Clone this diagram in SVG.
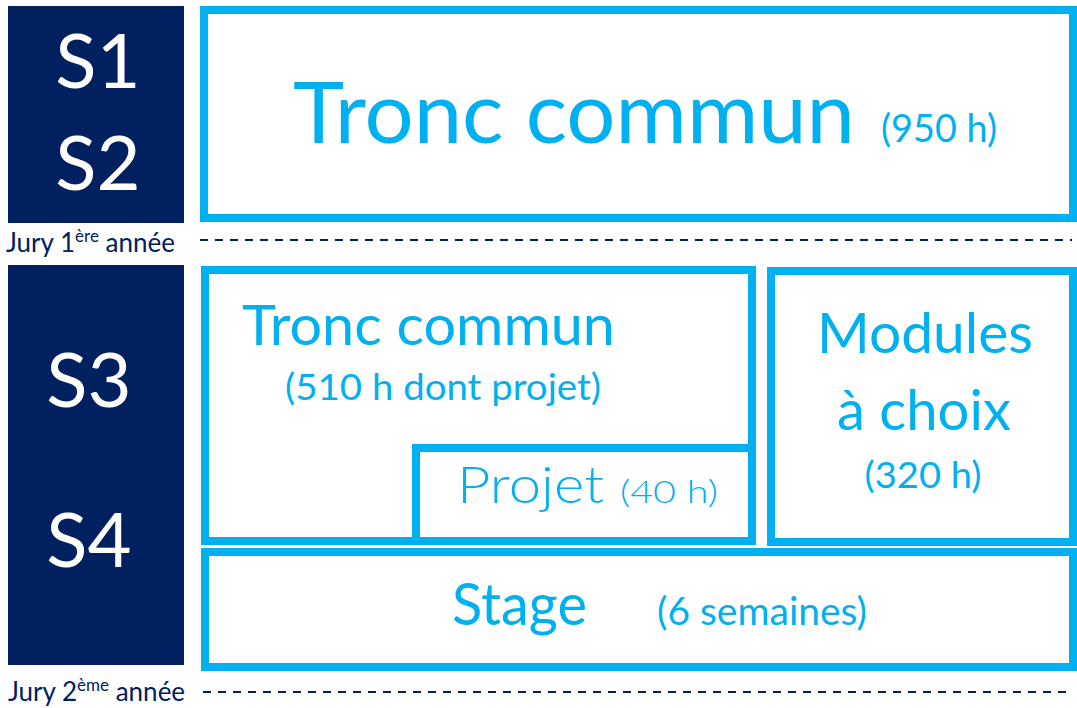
<svg xmlns="http://www.w3.org/2000/svg" width="1077" height="708" viewBox="0 0 1077 708">
<style>
.sem{fill:#002060}
.semt{fill:#ffffff;font-family:Lato,"Liberation Sans",sans-serif;font-size:76px;text-anchor:middle}
.box{fill:#ffffff;stroke:#00B0F0;stroke-width:8}
.t{fill:#00B0F0;font-family:Lato,"Liberation Sans",sans-serif}
.lt{font-weight:300}
.jury{fill:#002060;font-family:Lato,"Liberation Sans",sans-serif;font-size:26px}
.dash{stroke:#002060;stroke-width:2;stroke-dasharray:8 7;fill:none}
</style>
<rect width="1077" height="708" fill="#ffffff"/>
<g id="year1">
  <rect class="sem" x="8" y="6" width="176" height="217"/>
  <text class="semt" x="98" y="88">S1</text>
  <text class="semt" x="98" y="190">S2</text>
</g>
<g id="tronc1">
  <rect class="box" x="204" y="10" width="869" height="208"/>
  <text class="t" x="293" y="143" font-size="86" textLength="562" lengthAdjust="spacingAndGlyphs">Tronc commun</text>
  <text class="t" x="881" y="142" font-size="38" textLength="116" lengthAdjust="spacingAndGlyphs">(950 h)</text>
</g>
<g id="year2">
  <rect class="sem" x="8" y="265" width="176" height="400"/>
  <text class="semt" x="89" y="407">S3</text>
  <text class="semt" x="89" y="567">S4</text>
</g>
<g id="tronc2">
  <rect class="box" x="205" y="270" width="547" height="271"/>
  <text class="t" x="242" y="345" font-size="56" textLength="373" lengthAdjust="spacingAndGlyphs">Tronc commun</text>
  <text class="t" x="285" y="400" font-size="37" textLength="316" lengthAdjust="spacingAndGlyphs">(510 h dont projet)</text>
</g>
<g id="projet">
  <rect class="box" x="416" y="448" width="336" height="93"/>
  <text class="t lt" x="457" y="503" font-size="52" textLength="147" lengthAdjust="spacingAndGlyphs">Projet</text>
  <text class="t lt" x="620" y="503" font-size="32" textLength="98" lengthAdjust="spacingAndGlyphs">(40 h)</text>
</g>
<g id="modules">
  <rect class="box" x="771" y="271" width="302" height="271"/>
  <text class="t" x="925" y="353" font-size="56" text-anchor="middle" textLength="216" lengthAdjust="spacingAndGlyphs">Modules</text>
  <text class="t" x="924" y="430" font-size="56" text-anchor="middle" textLength="174" lengthAdjust="spacingAndGlyphs">à choix</text>
  <text class="t" x="923" y="488" font-size="37" text-anchor="middle" textLength="117" lengthAdjust="spacingAndGlyphs">(320 h)</text>
</g>
<g id="stage">
  <rect class="box" x="205" y="552" width="868" height="115"/>
  <text class="t" x="452" y="625" font-size="58" textLength="135" lengthAdjust="spacingAndGlyphs">Stage</text>
  <text class="t" x="657" y="625" font-size="38" textLength="210" lengthAdjust="spacingAndGlyphs">(6 semaines)</text>
</g>
<g id="connectors">
  <line class="dash" x1="200" y1="240" x2="1072" y2="240"/>
  <line class="dash" x1="203" y1="692" x2="1072" y2="692"/>
</g>
<g id="jury1">
  <text class="jury" x="6" y="252">Jury 1<tspan font-size="17" dy="-10">ère</tspan><tspan dy="10"> année</tspan></text>
</g>
<g id="jury2">
  <text class="jury" x="8" y="701">Jury 2<tspan font-size="17" dy="-10">ème</tspan><tspan dy="10"> année</tspan></text>
</g>
</svg>
